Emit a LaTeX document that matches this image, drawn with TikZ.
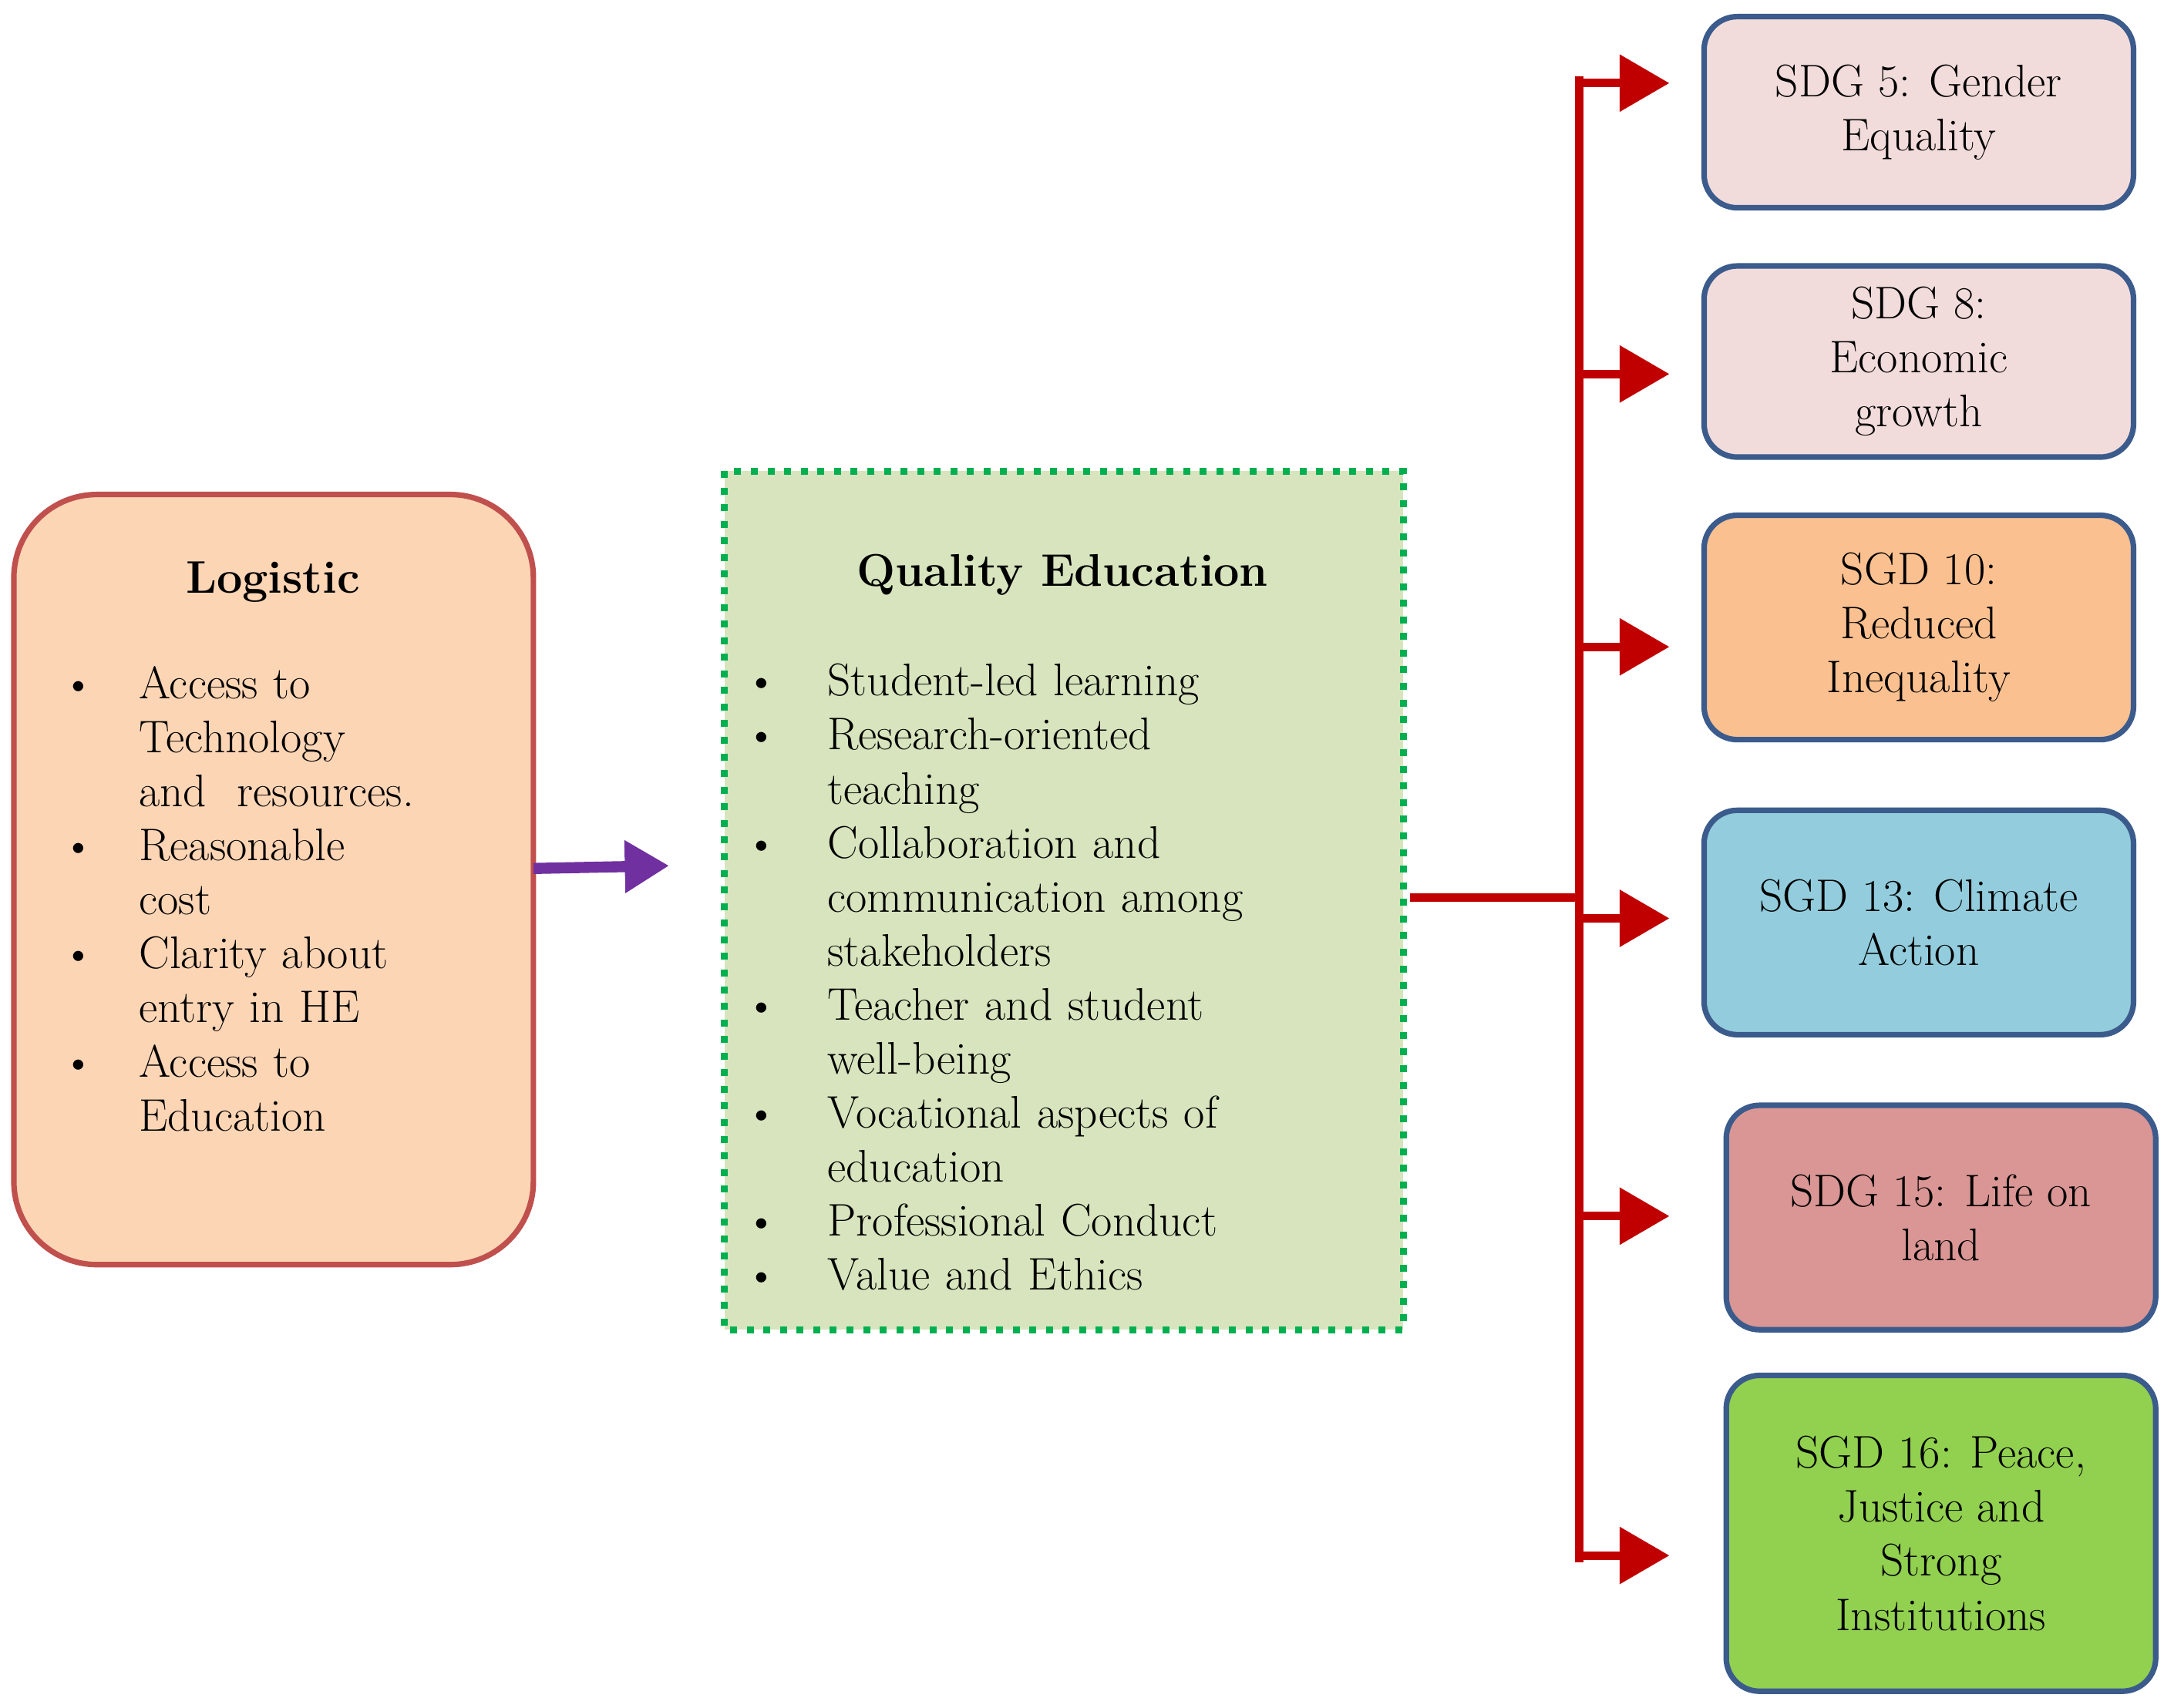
\documentclass[tikz,border=0pt]{standalone}
\usepackage{enumitem}
\usetikzlibrary{arrows.meta}
\definecolor{logf}{HTML}{FCD5B5}
\definecolor{logb}{HTML}{C0504D}
\definecolor{qef}{HTML}{D7E4BD}
\definecolor{qeb}{HTML}{00B050}
\definecolor{purp}{HTML}{7030A0}
\definecolor{red1}{HTML}{C00000}
\definecolor{sdgb}{HTML}{3B5B8C}
\definecolor{pinkf}{HTML}{F2DCDB}
\definecolor{orf}{HTML}{FAC090}
\definecolor{bluf}{HTML}{93CDDD}
\definecolor{redf}{HTML}{D99694}
\definecolor{grf}{HTML}{92D050}
\begin{document}
\begin{tikzpicture}[x=0.5pt,y=-0.5pt,
  sdg/.style={draw=sdgb,line width=2pt,rounded corners=12pt,align=center,font=\fontsize{16.5}{19.5}\selectfont},
  red/.style={draw=red1,line width=3pt},
  rarr/.style={red,-{Triangle[length=18pt,width=20pt]}},
  txt/.style={font=\fontsize{16.5}{19.5}\selectfont,inner sep=0pt}]
\useasboundingbox (0,0) rectangle (1562,1233);
\draw[logb,fill=logf,line width=2pt,rounded corners=30pt] (10,357) rectangle (385,913);
\node[txt,font=\fontsize{16.5}{19.5}\selectfont\bfseries] (lt) at (197,420) {Logistic};
\node[txt,anchor=north west,text width=170pt] (ll) at (48,465) {%
\begin{itemize}[leftmargin=26pt,labelsep=16pt,itemsep=0pt,topsep=0pt,parsep=0pt]
\item Access to\\Technology\\and\ \ resources.
\item Reasonable\\cost
\item Clarity about\\entry in HE
\item Access to\\Education
\end{itemize}};
\draw[qeb,fill=qef,line width=2.5pt,dash pattern=on 2.5pt off 3.5pt] (523,340) rectangle (1013,960);
\node[txt,font=\fontsize{16.5}{19.5}\selectfont\bfseries] (qt) at (767,415) {Quality Education};
\node[txt,anchor=north west,text width=235pt] (ql) at (543,463) {%
\begin{itemize}[leftmargin=27pt,labelsep=18pt,itemsep=0pt,topsep=0pt,parsep=0pt]
\item Student-led learning
\item Research-oriented\\teaching
\item Collaboration and\\communication among\\stakeholders
\item Teacher and student\\well-being
\item Vocational aspects of\\education
\item Professional Conduct
\item Value and Ethics
\end{itemize}};
\coordinate (pa) at (385,627);
\coordinate (pb) at (483,625);
\draw[purp,line width=4pt,-{Triangle[length=16pt,width=18pt]}] (pa) -- (pb);
\node[sdg,fill=pinkf,minimum width=155pt,minimum height=69pt] (s1) at (1385,81) {SDG 5: Gender\\Equality};
\node[sdg,fill=pinkf,minimum width=155pt,minimum height=69pt] (s2) at (1385,261) {SDG 8:\\Economic\\growth};
\node[sdg,fill=orf,minimum width=155pt,minimum height=81pt] (s3) at (1385,453) {SGD 10:\\Reduced\\Inequality};
\node[sdg,fill=bluf,minimum width=155pt,minimum height=81pt] (s4) at (1385,666) {SGD 13: Climate\\Action};
\node[sdg,fill=redf,minimum width=155pt,minimum height=81pt] (s5) at (1401,879) {SDG 15: Life on\\land};
\node[sdg,fill=grf,minimum width=155pt,minimum height=114pt] (s6) at (1401,1107) {SGD 16: Peace,\\Justice and\\Strong\\Institutions};
\coordinate (j) at (1140,648);
\coordinate (qr) at (1018,648);
\coordinate (top) at (1140,58);
\coordinate (bot) at (1140,1125);
\draw[red] (qr) -- (j);
\draw[red,line cap=rect] (top) -- (bot);
\foreach \y/\n in {60/s1,270/s2,467/s3,663/s4,878/s5,1123/s6}{
  \draw[rarr] (1140,\y) -- (1205,\y);
}
\end{tikzpicture}
\end{document}
